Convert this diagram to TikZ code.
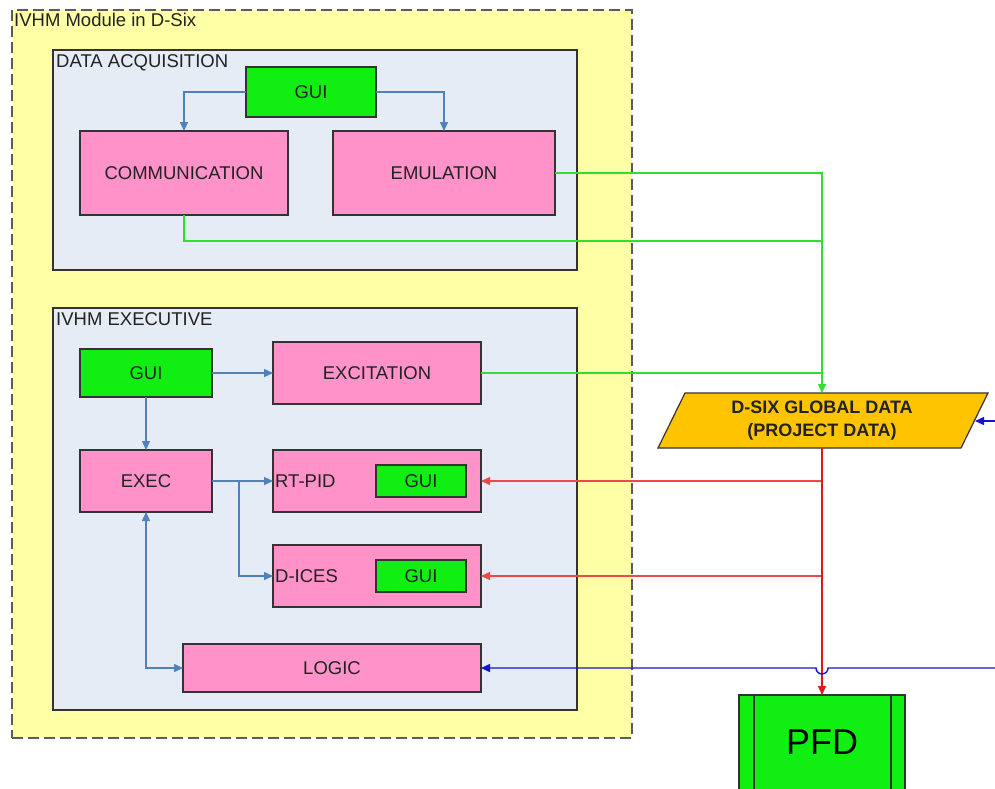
\documentclass[tikz,border=0pt]{standalone}
\usepackage{fontspec}
\setmainfont{Liberation Sans}
\usetikzlibrary{arrows.meta}
\definecolor{outerfill}{HTML}{FFFFA6}
\definecolor{panelfill}{HTML}{E6ECF5}
\definecolor{pinkfill}{HTML}{FF92C8}
\definecolor{guifill}{HTML}{11EE11}
\definecolor{gdfill}{HTML}{FFC400}
\definecolor{edge}{HTML}{333333}
\definecolor{txt}{HTML}{222222}
\definecolor{inblue}{HTML}{4F81BD}
\definecolor{gline}{HTML}{30E030}
\definecolor{rline}{HTML}{E01818}
\definecolor{rbranch}{HTML}{F04848}
\definecolor{bline}{HTML}{1414CC}
\begin{document}
\begin{tikzpicture}[x=1pt,y=-1pt,
  every node/.style={font=\fontsize{18.5}{21}\selectfont,text=txt},
  boxbase/.style={draw=edge,line width=1.2pt,inner sep=0pt,outer sep=0pt},
  pinkbox/.style={boxbase,fill=pinkfill},
  guibox/.style={boxbase,fill=guifill},
  panelbox/.style={boxbase,fill=panelfill},
  lbl/.style={anchor=north west,inner sep=0pt},
  tip/.style={-{Triangle[length=9pt,width=8pt]}},
  bcon/.style={draw=inblue,line width=1.4pt},
  gcon/.style={draw=gline,line width=1.4pt},
  rcon/.style={draw=rline,line width=1.4pt},
  rbr/.style={draw=rbranch,line width=1.4pt},
  bext/.style={draw=bline,line width=1.4pt}]
\clip (0,0) rectangle (995,788);
\fill[white] (0,0) rectangle (995,788);
% outer module
\node[draw=edge!80,fill=outerfill,line width=1.6pt,dash pattern=on 11pt off 5pt,minimum width=620,minimum height=728,inner sep=0pt] (outer) at (322,374) {};
\node[lbl] (outerlbl) at (14,13) {IVHM Module in D-Six};
% data acquisition
\node[panelbox,minimum width=524,minimum height=220] (daq) at (315,160) {};
\node[lbl] (daqlbl) at (56,54) {DATA ACQUISITION};
\node[guibox,minimum width=130,minimum height=50] (gui1) at (311,92) {GUI};
\node[pinkbox,minimum width=208,minimum height=84] (comm) at (184,173) {COMMUNICATION};
\node[pinkbox,minimum width=222,minimum height=84] (emu) at (444,173) {EMULATION};
% executive
\node[panelbox,minimum width=524,minimum height=402] (exe) at (315,509) {};
\node[lbl] (exelbl) at (56,312) {IVHM EXECUTIVE};
\node[guibox,minimum width=132,minimum height=48] (gui2) at (146,373) {GUI};
\node[pinkbox,minimum width=208,minimum height=62] (excit) at (377,373) {EXCITATION};
\node[pinkbox,minimum width=132,minimum height=62] (exec) at (146,481) {EXEC};
\node[pinkbox,minimum width=208,minimum height=62] (rtpid) at (377,481) {};
\node[anchor=west,inner sep=0pt] (rtpidlbl) at (275,481) {RT-PID};
\node[guibox,minimum width=90,minimum height=32] (gui3) at (421,481) {GUI};
\node[pinkbox,minimum width=208,minimum height=62] (dices) at (377,576) {};
\node[anchor=west,inner sep=0pt] (diceslbl) at (275,576) {D-ICES};
\node[guibox,minimum width=90,minimum height=32] (gui4) at (421,576) {GUI};
\node[pinkbox,minimum width=298,minimum height=48] (logic) at (332,668) {LOGIC};
% global data
\draw[draw=edge,line width=1.2pt,fill=gdfill] (685,393) -- (988,393) -- (961,448) -- (658,448) -- cycle;
\node[align=center,font=\fontsize{18}{23}\selectfont\bfseries] (gd) at (822,421) {D-SIX GLOBAL DATA\\(PROJECT DATA)};
\coordinate (gdN) at (822,393);
\coordinate (gdS) at (822,448);
\coordinate (gdE) at (975,421);
% PFD
\node[guibox,minimum width=166,minimum height=106] (pfd) at (822,748) {};
\draw[draw=edge,line width=1.2pt] (754,695) -- (754,801) (891,695) -- (891,801);
\node[font=\fontsize{36}{40}\selectfont,text=black] (pfdlbl) at (822,742) {PFD};
% inner blue connectors
\draw[bcon,tip] (gui1.west) -| (comm.north);
\draw[bcon,tip] (gui1.east) -| (emu.north);
\draw[bcon,tip] (gui2.east) -- (excit.west);
\draw[bcon,tip] (gui2.south) -- (exec.north);
\draw[bcon,tip] (exec.east) -- (rtpid.west);
\coordinate (b1) at (239,481);
\draw[bcon,tip] (b1) |- (dices.west);
\draw[bcon,{Triangle[length=9pt,width=8pt]}-{Triangle[length=9pt,width=8pt]}] (exec.south) |- (logic.west);
% green connectors
\coordinate (j1) at (822,241);
\coordinate (j2) at (822,373);
\draw[gcon] (comm.south) |- (j1);
\draw[gcon] (excit.east) -- (j2);
\draw[gcon,tip] (emu.east) -| (gdN);
% red connectors
\coordinate (r1) at (822,481);
\coordinate (r2) at (822,576);
\draw[rbr,tip] (r1) -- (rtpid.east);
\draw[rbr,tip] (r2) -- (dices.east);
\draw[rcon,tip] (gdS) -- (pfd.north);
% blue external
\coordinate (bin1) at (996,421);
\coordinate (bin2) at (996,668);
\draw[bext,tip] (bin1) -- (gdE);
\draw[bext,tip] (bin2) -- (828,668) arc[start angle=0,end angle=180,radius=6] -- (logic.east);
\end{tikzpicture}
\end{document}
